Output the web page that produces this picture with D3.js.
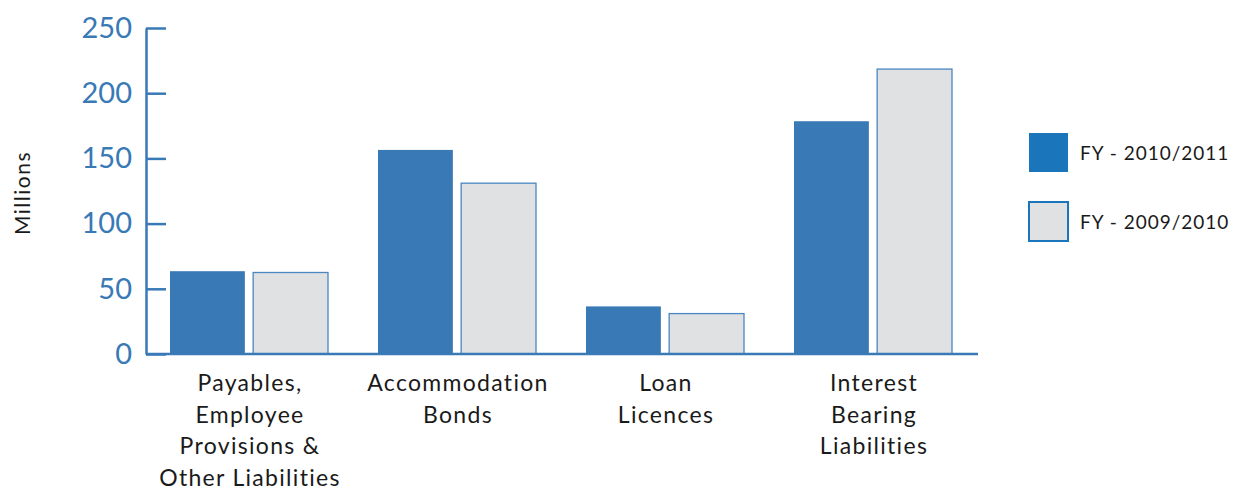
<!DOCTYPE html>
<html>
<head>
<meta charset="utf-8">
<style>
	body { margin: 0; background: #fff; }
	.tick text { font-family: "Lato", sans-serif; }
</style>
</head>
<body>
<script src="https://d3js.org/d3.v7.min.js"></script>
<script>

	// Data
	var categories = [
		["Payables,", "Employee", "Provisions &", "Other Liabilities"],
		["Accommodation", "Bonds"],
		["Loan", "Licences"],
		["Interest", "Bearing", "Liabilities"]
	];
	var seriesNames = ["FY - 2010/2011", "FY - 2009/2010"];
	var fy2011 = [63.5, 156.5, 36.5, 178.5];
	var fy2010 = [62.5, 131, 31, 218.5];
	var yTicks = [0, 50, 100, 150, 200, 250];

	var width = 1235, height = 488;
	var margin = {top: 28, left: 146, right: 257, bottom: 134};
	var blue = "#3879b6";

	var svg = d3.select("body").append("svg")
		.attr("width", width)
		.attr("height", height);

	var x0 = d3.scaleBand()
		.domain(d3.range(categories.length))
		.range([margin.left, width - margin.right]);

	var x1 = d3.scaleBand()
		.domain([0, 1])
		.range([24, x0.bandwidth() - 26])
		.paddingInner(0.1);

	var y = d3.scaleLinear()
		.domain([0, 250])
		.range([height - margin.bottom, margin.top]);

	var rows = categories.map(function(c, i) {
		return {i: i, vals: [fy2011[i], fy2010[i]]};
	});

	// Bars
	var g = svg.selectAll(".grp")
		.data(rows)
		.enter().append("g")
		.attr("transform", function(d) { return "translate(" + x0(d.i) + ",0)"; });

	g.selectAll("rect")
		.data(function(d) { return d.vals.map(function(v, k) { return {k: k, v: v}; }); })
		.enter().append("rect")
		.attr("x", function(d) { return x1(d.k); })
		.attr("y", function(d) { return y(d.v); })
		.attr("width", x1.bandwidth())
		.attr("height", function(d) { return y(0) - y(d.v); })
		.attr("fill", function(d) { return d.k === 0 ? blue : "#e0e1e3"; })
		.attr("stroke", function(d) { return d.k === 0 ? "none" : "#4a86c2"; })
		.attr("stroke-width", 1.3);

	// Y axis
	var yAxis = svg.append("g")
		.attr("transform", "translate(" + margin.left + ",0)")
		.call(d3.axisRight(y).tickValues(yTicks).tickSize(20).tickSizeOuter(0));
	yAxis.select(".domain").attr("stroke", blue).attr("stroke-width", 2.5);
	yAxis.selectAll(".tick line").attr("stroke", blue).attr("stroke-width", 2.5);
	yAxis.selectAll(".tick text")
		.attr("x", -14)
		.attr("text-anchor", "end")
		.attr("fill", blue)
		.style("font-size", "29px");

	// X axis baseline
	svg.append("line")
		.attr("x1", margin.left)
		.attr("x2", width - margin.right)
		.attr("y1", y(0))
		.attr("y2", y(0))
		.attr("stroke", blue)
		.attr("stroke-width", 2.5);

	// Category labels
	svg.selectAll(".cat")
		.data(categories)
		.enter().append("text")
		.attr("class", "cat")
		.attr("text-anchor", "middle")
		.attr("font-family", "Lato, sans-serif")
		.attr("font-size", "23px")
		.attr("letter-spacing", "1.3px")
		.attr("fill", "#1a1a1a")
		.each(function(lines, i) {
			d3.select(this).selectAll("tspan")
				.data(lines)
				.enter().append("tspan")
				.attr("x", x0(i) + x0.bandwidth() / 2)
				.attr("y", function(d, j) { return 391 + j * 31.5; })
				.text(function(d) { return d; });
		});

	// Y title
	svg.append("text")
		.attr("transform", "translate(30," + 193 + ") rotate(-90)")
		.attr("text-anchor", "middle")
		.attr("font-family", "Lato, sans-serif")
		.attr("font-size", "21px")
		.attr("letter-spacing", "1.5px")
		.attr("fill", "#1a1a1a")
		.text("Millions");

	// Legend
	var leg = svg.selectAll(".leg")
		.data(seriesNames)
		.enter().append("g")
		.attr("transform", function(d, i) { return "translate(1029," + (133 + i * 69) + ")"; });

	leg.append("rect")
		.attr("width", 39)
		.attr("height", 39)
		.attr("fill", function(d, i) { return i === 0 ? "#1b75bb" : "#e0e1e3"; })
		.attr("stroke", function(d, i) { return i === 0 ? "none" : "#1b75bb"; })
		.attr("stroke-width", 2);

	leg.append("text")
		.attr("x", 51)
		.attr("y", 27)
		.attr("font-family", "Lato, sans-serif")
		.attr("font-size", "19px")
		.attr("letter-spacing", "1px")
		.attr("fill", "#1a1a1a")
		.text(function(d) { return d; });

</script>
</body>
</html>
